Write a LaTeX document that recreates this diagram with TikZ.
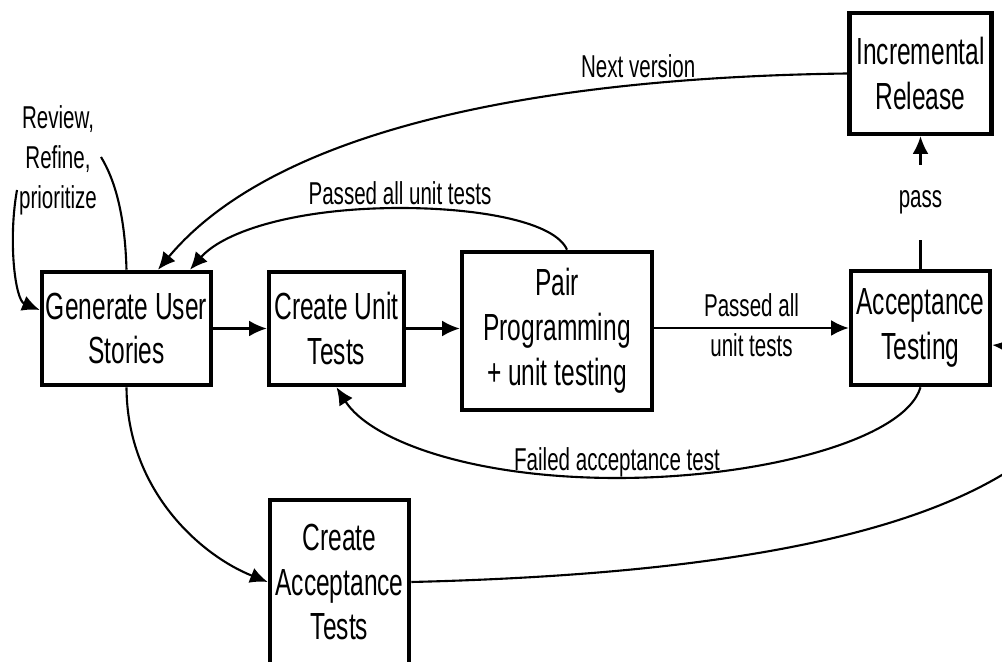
\documentclass[tikz,border=0pt]{standalone}
\usepackage{fontspec}
\setmainfont{Liberation Sans}[FakeStretch=0.65]
\usetikzlibrary{arrows.meta}
\newcommand\mainsz{\fontsize{21.5pt}{25.5pt}\selectfont}
\newcommand\labsz{\fontsize{18pt}{22.7pt}\selectfont}
\tikzset{
  box/.style={draw, line width=2.6pt, align=center, font=\mainsz, inner sep=0pt},
  lab/.style={font=\labsz, align=center, inner sep=0pt},
  conn/.style={line width=1.2pt, -{Latex[length=10pt,width=9pt]}},
}
\begin{document}
\begin{tikzpicture}[x=0.02cm,y=-0.02cm]
\useasboundingbox (0,0) rectangle (1002,662);
\clip (0,0) rectangle (1002,662);
% boxes
\node[box, minimum width=3.38cm, minimum height=2.26cm] (gen) at (126.5,328.5) {Generate User\\Stories};
\node[box, minimum width=2.70cm, minimum height=2.26cm] (cut) at (336.5,328.5) {Create Unit\\Tests};
\node[box, minimum width=3.80cm, minimum height=3.16cm] (pair) at (557,331) {Pair\\Programming\\+ unit testing};
\node[box, minimum width=2.78cm, minimum height=2.28cm] (at) at (920.5,328) {Acceptance\\Testing};
\node[box, minimum width=2.84cm, minimum height=2.42cm] (ir) at (920.5,73.5) {Incremental\\Release};
\node[box, minimum width=2.78cm, minimum height=3.28cm] (cat) at (339.5,582) {Create\\Acceptance\\Tests};
% self-loop label
\node[lab] (review) at (58,160) {Review,\\Refine,\\prioritize};
\coordinate (revR) at (101,157);
\coordinate (revL) at (17,190);
% straight arrows
\draw[conn] (gen.east) -- (cut.west);
\draw[conn] (cut.east) -- (cut.east -| pair.west);
\draw[conn] (at.west -| pair.east) -- node[lab, yshift=0.05cm] {Passed all\\unit tests} (at.west);
\draw[conn] (at.north) -- node[lab, fill=white, minimum height=1.5cm] {pass} (ir.south);
% self loop
\draw[line width=1.2pt] (gen.north) .. controls (125,215) and (115,180) .. (revR);
\draw[conn] (revL) .. controls (8,240) and (15,300) .. ([yshift=0.37cm]gen.west);
% next version
\draw[conn] (ir.west) .. controls (650,76) and (300,100) .. node[lab, pos=0.3, anchor=south, yshift=0.12cm] {Next version} ([xshift=0.63cm]gen.north);
% passed all unit tests back to gen
\draw[conn] ([xshift=0.2cm]pair.north) .. controls (555,222) and (480,208) .. (400,208) node[lab, anchor=south, yshift=0.04cm] {Passed all unit tests} .. controls (300,208) and (225,230) .. ([xshift=1.27cm]gen.north);
% failed acceptance test
\draw[conn] (at.south) .. controls (905,440) and (760,478) .. (617,478) node[lab, anchor=south] {Failed acceptance test} .. controls (470,478) and (370,440) .. (cut.south);
% gen to create acceptance tests
\draw[conn] (gen.south) .. controls (127,490) and (200,555) .. (cat.west);
% create acceptance tests to acceptance testing (via the right, outside)
\draw[conn] (cat.east) .. controls (700,575) and (900,540) .. (1010,470) .. controls (1060,430) and (1050,350) .. ([yshift=-0.34cm]at.east);
\end{tikzpicture}
\end{document}
